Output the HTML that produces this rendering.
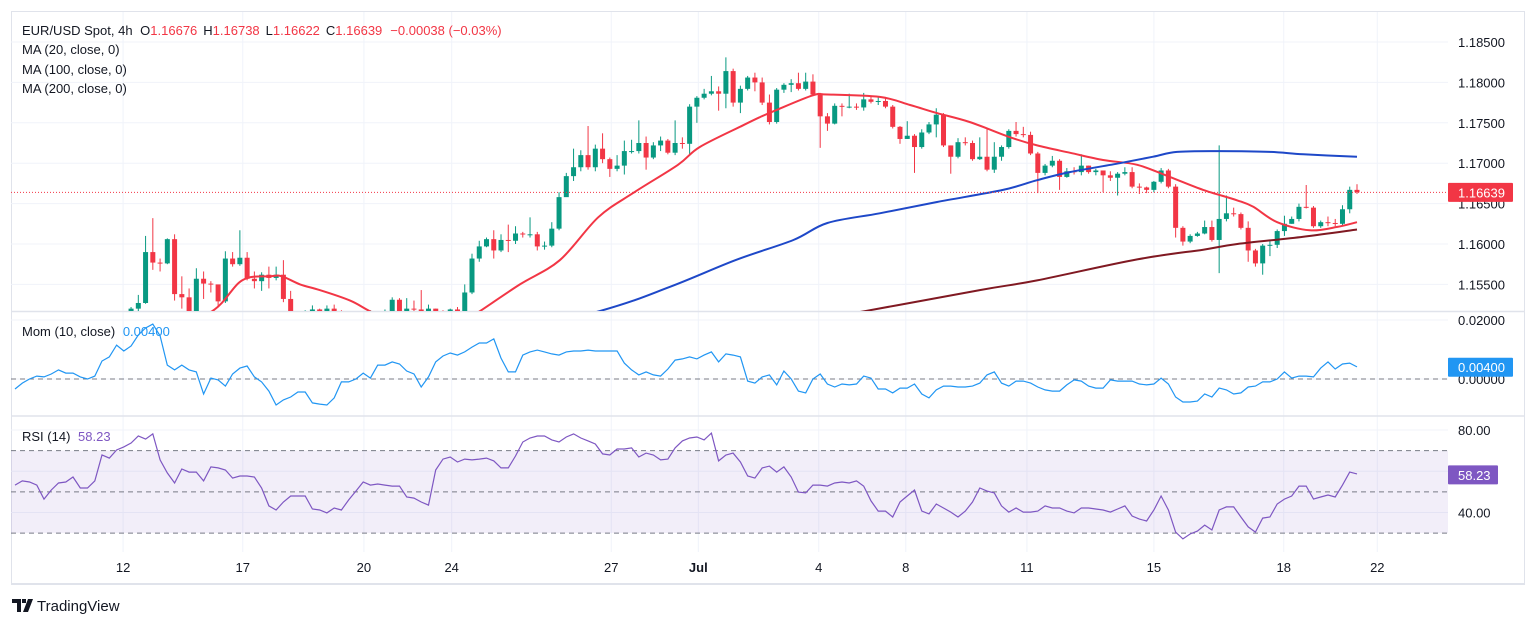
<!DOCTYPE html>
<html><head><meta charset="utf-8"><style>
html,body{margin:0;padding:0;background:#fff;}
svg{display:block;font-family:"Liberation Sans",sans-serif;}
</style></head><body>
<svg id="chart" width="1536" height="625" viewBox="0 0 1536 625" xmlns="http://www.w3.org/2000/svg">
<defs>
<clipPath id="cpPrice"><rect x="11" y="12" width="1437" height="299"/></clipPath>
<clipPath id="cpMom"><rect x="11" y="313" width="1437" height="102"/></clipPath>
<clipPath id="cpRsi"><rect x="11" y="418" width="1437" height="134"/></clipPath>
</defs>
<rect x="11.5" y="11.5" width="1513" height="573" fill="#fff" stroke="#e0e3eb"/>
<g id="grid"></g>
<g id="panes"></g>
<g id="marks"></g>
<g id="axes"></g>
<g id="legend">
<text x="22" y="35" font-size="13" fill="#131722">EUR/USD Spot, 4h <tspan dx="4">O</tspan><tspan fill="#f23645">1.16676</tspan><tspan dx="6">H</tspan><tspan fill="#f23645">1.16738</tspan><tspan dx="6">L</tspan><tspan fill="#f23645">1.16622</tspan><tspan dx="6">C</tspan><tspan fill="#f23645">1.16639</tspan><tspan dx="8" fill="#f23645">−0.00038 (−0.03%)</tspan></text>
<text x="22" y="54" font-size="13" fill="#131722">MA (20, close, 0)</text>
<text x="22" y="74" font-size="13" fill="#131722">MA (100, close, 0)</text>
<text x="22" y="93" font-size="13" fill="#131722">MA (200, close, 0)</text>
<text x="22" y="336" font-size="13" fill="#131722">Mom (10, close) <tspan dx="4" fill="#2196f3">0.00400</tspan></text>
<text x="22" y="441" font-size="13" fill="#131722">RSI (14) <tspan dx="4" fill="#7e57c2">58.23</tspan></text>
</g>
<g>
<path d="M12 599h9v13h-4v-9h-5z M22 599h4v4h-4z M28 599h5l-5 13h-5z" fill="#131722"/>
<text x="37" y="611" font-size="15" fill="#131722">TradingView</text>
</g>
</svg>
<script>
// ---- data (price in pips above 1.15000) ----
const closes = [8,5,10,6,3,7,12,9,4,6,10,14,11,8,12,15,
20,27,90,77,76,106,38,34,17,57,51,50,29,82,75,83,57,54,62,58,62,32,14,
10,12,19,15,20,16,12,8,6,9,12,10,14,31,17,20,19,17,20,15,12,19,16,40,82,
97,106,92,105,104,113,112,112,97,98,119,158,184,195,210,195,218,205,193,197,215,215,225,207,222,228,213,225,224,270,281,286,289,286,314,275,292,306,300,275,251,291,297,299,292,301,285,258,249,271,270,270,269,279,276,277,270,245,230,
234,220,238,248,260,222,208,226,225,205,208,192,208,220,240,236,235,212,188,197,203,183,190,189,197,189,191,185,182,187,189,171,170,167,177,191,171,120,103,110,113,121,105,131,138,137,120,92,76,98,99,116,125,131,146,145,122,127,126,125,143,167,164];
const highs = [12,10,14,11,8,12,15,13,9,11,14,16,15,12,15,16,
22,37,110,132,82,107,112,60,45,70,66,54,45,91,90,117,90,66,65,72,72,80,42,
16,18,24,20,24,25,18,14,12,14,18,16,19,34,33,33,30,43,25,20,18,20,22,50,88,
104,108,117,112,124,122,115,133,115,103,127,164,188,218,216,246,223,237,207,210,228,229,253,233,226,233,230,253,232,273,283,292,308,295,331,317,296,308,312,306,285,293,299,304,312,312,310,287,262,274,274,286,274,287,283,282,282,272,246,
252,236,242,251,268,262,222,231,232,228,232,243,226,222,242,251,245,239,214,199,209,205,194,195,211,197,193,188,190,189,195,195,175,171,178,194,193,174,122,112,115,129,129,222,160,145,139,128,94,100,105,118,135,134,150,173,147,129,134,131,148,171,174];
const lows = [2,0,4,2,-2,1,6,3,0,2,5,9,7,4,8,10,
12,14,26,68,66,75,30,20,8,14,32,40,22,27,72,73,55,45,42,45,55,28,5,
3,5,10,8,12,10,5,2,0,3,6,4,8,12,12,15,15,10,12,8,6,10,10,14,38,
78,96,82,90,90,100,108,108,92,93,96,117,170,178,190,192,190,200,183,190,186,212,212,192,205,215,211,210,218,211,250,279,284,265,268,270,262,290,289,272,248,249,287,288,290,290,283,219,240,248,258,268,266,265,274,272,268,243,224,
230,188,218,236,232,220,187,206,222,203,204,190,188,203,218,233,232,210,163,185,195,167,182,186,185,187,185,164,178,160,185,169,162,163,164,175,169,108,98,101,109,112,103,64,128,134,118,78,72,62,85,95,110,125,128,144,120,120,122,122,122,138,162];
const ma20Bars = [20,27.2,31.3,35.2,36.8,39.3,42,46.2,48.9,52,58,62,64.1,69.6,75.1,80.4,85.2,91.4,94.4,100.4,102.7,105,110,112,119.2,123.4,127.1,131.6,137.2,140.9,145.4,150,154.7,159.2,163.8,168.5,170.7,174,178.5,182.2,185];
const ma20Vals = [-10,17,55,60,60,50,43,30,17,5,-5,5,17,50,80,133,163,198,220,247,257,266,284,285,282,272,262,251,232,222,213,204,198,183,167,154,146,127,117,121,127];
const ma100Bars = [60,80.6,90.3,99.3,107.3,112,119.2,127.1,136.2,140.9,145.4,152.3,156.9,160.2,166.1,173,177.6,185];
const ma100Vals = [-30,17,47,80,105,126,138,152,167,179,189,200,208,214,215,214,211,208];
const ma200Bars = [100,117.2,133,140.9,154.7,163.8,168.5,177.6,185];
const ma200Vals = [-10,17,43,55,81,93,100,109,118];
// momentum in pips (x0.0001)
const momVals = [-34,-14,0,10,7,17,31,20,20,7,0,10,61,75,115,95,112,149,173,186,146,47,31,47,31,24,-51,3,-3,-24,17,37,44,7,-10,-41,-88,-71,-61,-44,-44,-81,-85,-88,-64,-10,-10,0,20,3,47,47,58,51,27,17,-27,7,58,78,88,81,92,108,122,122,136,71,24,24,81,92,98,92,85,81,92,95,95,98,95,95,95,95,54,31,14,24,14,10,34,64,68,75,68,81,92,58,85,81,75,-7,-14,7,14,-20,27,0,-41,-47,0,17,-17,-27,-17,-20,-17,10,3,-34,-34,-47,-31,-31,-17,-51,-64,-37,-24,-24,-27,-27,-24,-14,14,24,-14,-24,-7,-7,-14,-27,-37,-41,-41,-20,-3,-7,-24,-31,-31,-3,-7,-7,-7,-17,-20,-17,3,-17,-61,-78,-78,-75,-51,-61,-31,-37,-51,-47,-27,-24,-10,-10,0,24,3,10,10,7,37,58,34,51,54,41];
const rsiVals = [53.3,55.3,54.8,53.3,46.5,50.9,54.3,54.8,57.2,51.9,51.9,55.3,67.9,66.4,70.3,71.8,73.7,77.1,75.6,78.1,65.5,59.2,54.3,61.1,59.6,59.6,55.3,62.1,61.6,60.6,56.7,57.7,57.7,57.2,51.9,43.2,41.2,45.1,48,48,48,41.7,41.2,39.8,42.2,41.2,46.1,50.4,54.8,53.3,53.8,53.3,52.8,52.8,47.5,47,45.1,43.6,60.6,65.9,66.9,64.5,65.9,65.5,65.9,66.4,65,61.6,61.6,67.4,74.2,76.1,77.1,77.1,75.2,74.2,76.6,78.1,76.1,74.7,73.2,68.4,67.9,70.8,70.8,71.3,66.9,68.8,67.9,65.5,65.9,71.3,74.7,76.1,76.6,75.2,78.5,65,67.9,68.8,64.5,57.7,56.7,61.6,62.5,59.6,62.1,57.2,49.9,49.5,53.3,53.3,52.8,54.3,54.8,54.3,55.3,52.8,45.6,40.7,40.7,37.8,45.1,48,50.9,40.7,39.3,44.1,42.2,40.2,37.8,40.7,45.1,51.9,50.4,49.5,43.2,40.2,42.2,40.2,40.2,40.7,43.2,42.2,42.2,40.7,39.8,42.2,42.2,41.7,41.2,40.2,41.7,43.2,38.3,36.8,35.9,41.2,48,41.2,30.5,27.2,29.6,31,33.9,31.5,41.2,42.7,42.7,37.8,33,30.5,37.3,37.8,44.1,46.5,48,52.8,52.8,46.5,47.5,48.5,47.5,53.3,59.6,58.7];
const priceTicks = [1.185,1.18,1.175,1.17,1.165,1.16,1.155];
const momTicks = [0.02,0];
const rsiTicks = [80,40];
const rsiLevels = [70,50,30];
const dateTickBars = [14.9,31.4,48.1,60.2,82.2,94.2,110.8,122.8,139.5,157.0,174.9,187.8];
const dateTickLabels = ["12","17","20","24","27","Jul","4","8","11","15","18","22"];
const lastPrice = 1.16639;
const lastMom = 0.004;
const lastRsi = 58.23;

// ---- scales ----
const NS="http://www.w3.org/2000/svg";
const PLOT_L=11, PLOT_R=1448;
const xb = b => 15 + 7.254*b;
const yPrice = p => 42 + (1.185 - p)/0.005*40.4;
const yPip = v => yPrice(1.15 + v/10000);
const yMom = m => 379 - m/0.02*59;
const yRsi = r => 430 + (80 - r)*2.0625;
function mk(tag, attrs, parent){const e=document.createElementNS(NS,tag);for(const k in attrs)e.setAttribute(k,attrs[k]);parent.appendChild(e);return e;}
const grid=document.getElementById('grid'), panes=document.getElementById('panes'), marks=document.getElementById('marks'), axes=document.getElementById('axes');

// grid
priceTicks.forEach(p=>{const l=mk('line',{x1:PLOT_L,x2:PLOT_R,y1:yPrice(p),y2:yPrice(p),stroke:'#f0f3fa'},grid);

});
momTicks.forEach(m=>{const l=mk('line',{x1:PLOT_L,x2:PLOT_R,y1:yMom(m),y2:yMom(m),stroke:'#f0f3fa'},grid);

});
[80,60,40].forEach(r=>{const l=mk('line',{x1:PLOT_L,x2:PLOT_R,y1:yRsi(r),y2:yRsi(r),stroke:'#f0f3fa'},grid);

});
dateTickBars.forEach(b=>{const l=mk('line',{x1:xb(b),x2:xb(b),y1:12,y2:552,stroke:'#f0f3fa'},grid);

});

// pane separators & rsi band
[[311.5],[416]].forEach(a=>{const l=mk('line',{x1:11,x2:1524,y1:a[0],y2:a[0],stroke:'#e0e3eb','stroke-width':1.5},panes);

});
const band=mk('rect',{x:PLOT_L,y:yRsi(70),width:PLOT_R-PLOT_L,height:yRsi(30)-yRsi(70),fill:'rgba(126,87,194,0.1)'},panes);


rsiLevels.forEach(r=>{const l=mk('line',{x1:PLOT_L,x2:PLOT_R,y1:yRsi(r),y2:yRsi(r),stroke:'#787b86','stroke-dasharray':'5 4'},panes);

});
const zl=mk('line',{x1:PLOT_L,x2:PLOT_R,y1:yMom(0),y2:yMom(0),stroke:'#787b86','stroke-dasharray':'5 4'},panes);



// candles
const gP=mk('g',{'clip-path':'url(#cpPrice)'},marks);
for(let i=0;i<closes.length;i++){
  const o = i>0?closes[i-1]:closes[i], c=closes[i];
  const up = c>=o, col = up?'#089981':'#f23645';
  const x=xb(i);
  const g=mk('g',{},gP);
  
  
  mk('line',{x1:x,x2:x,y1:yPip(highs[i]),y2:yPip(lows[i]),stroke:col,'stroke-width':1},g);
  const yt=yPip(Math.max(o,c)), yb=yPip(Math.min(o,c));
  mk('rect',{x:x-2.5,y:yt,width:5,height:Math.max(1,yb-yt),fill:col},g);
}
function pathOf(bars,vals,xf,yf){return bars.map((b,i)=>(i?'L':'M')+xf(b).toFixed(1)+' '+yf(vals[i]).toFixed(1)).join(' ');}
function smoothOf(bars,vals,xf,yf){
  const p=bars.map((b,i)=>[xf(b),yf(vals[i])]);
  let d='M'+p[0][0].toFixed(1)+' '+p[0][1].toFixed(1);
  for(let i=0;i<p.length-1;i++){
    const p0=p[Math.max(0,i-1)],p1=p[i],p2=p[i+1],p3=p[Math.min(p.length-1,i+2)];
    const c1=[p1[0]+(p2[0]-p0[0])/6,p1[1]+(p2[1]-p0[1])/6];
    const c2=[p2[0]-(p3[0]-p1[0])/6,p2[1]-(p3[1]-p1[1])/6];
    d+=' C'+c1[0].toFixed(1)+' '+c1[1].toFixed(1)+' '+c2[0].toFixed(1)+' '+c2[1].toFixed(1)+' '+p2[0].toFixed(1)+' '+p2[1].toFixed(1);
  }
  return d;
}
const m20=mk('path',{d:smoothOf(ma20Bars,ma20Vals,xb,yPip),fill:'none',stroke:'#f23645','stroke-width':2,'stroke-linejoin':'round'},gP);


const m100=mk('path',{d:smoothOf(ma100Bars,ma100Vals,xb,yPip),fill:'none',stroke:'#1e48c8','stroke-width':2,'stroke-linejoin':'round'},gP);


const m200=mk('path',{d:smoothOf(ma200Bars,ma200Vals,xb,yPip),fill:'none',stroke:'#801922','stroke-width':2,'stroke-linejoin':'round'},gP);


const lp=mk('line',{x1:PLOT_L,x2:PLOT_R,y1:yPrice(lastPrice),y2:yPrice(lastPrice),stroke:'#f23645','stroke-dasharray':'1 2'},marks);



// momentum & rsi
const idx=momVals.map((_,i)=>i);
const gM=mk('g',{'clip-path':'url(#cpMom)'},marks);
const mp=mk('path',{d:pathOf(idx,momVals,xb,v=>yMom(v/10000)),fill:'none',stroke:'#2196f3','stroke-width':1.2},gM);


const gR=mk('g',{'clip-path':'url(#cpRsi)'},marks);
const rp=mk('path',{d:pathOf(rsiVals.map((_,i)=>i),rsiVals,xb,yRsi),fill:'none',stroke:'#7e57c2','stroke-width':1.2},gR);



// axes labels
function label(x,y,txt,name,extra){const t=mk('text',Object.assign({x:x,y:y,'font-size':13,fill:'#131722'},extra||{}),axes);t.textContent=txt;

return t;}
priceTicks.forEach(p=>label(1458,yPrice(p)+5,p.toFixed(5),'price-tick-label'));
momTicks.forEach(m=>label(1458,yMom(m)+5,m.toFixed(5),'mom-tick-label'));
rsiTicks.forEach(r=>label(1458,yRsi(r)+5,r.toFixed(2),'rsi-tick-label'));
dateTickBars.forEach((b,i)=>label(xb(b),572,dateTickLabels[i],'time-tick-label',{'text-anchor':'middle','font-weight':dateTickLabels[i]==='Jul'?'bold':'normal'}));
const tl=mk('line',{x1:11,x2:1524,y1:583.5,y2:583.5,stroke:'#e0e3eb'},axes);


function badge(y,w,txt,bg,name){const g=mk('g',{},axes);


mk('rect',{x:1448,y:y-9.5,width:w,height:19,fill:bg,rx:1},g);
const t=mk('text',{x:1458,y:y+5,'font-size':13,fill:'#fff'},g);t.textContent=txt;}
badge(yPrice(lastPrice),65,lastPrice.toFixed(5),'#f23645','last-price-badge');
badge(yMom(lastMom),65,lastMom.toFixed(5),'#2196f3','momentum-value-badge');
badge(yRsi(lastRsi),50,lastRsi.toFixed(2),'#7e57c2','rsi-value-badge');
</script>
</body></html>
